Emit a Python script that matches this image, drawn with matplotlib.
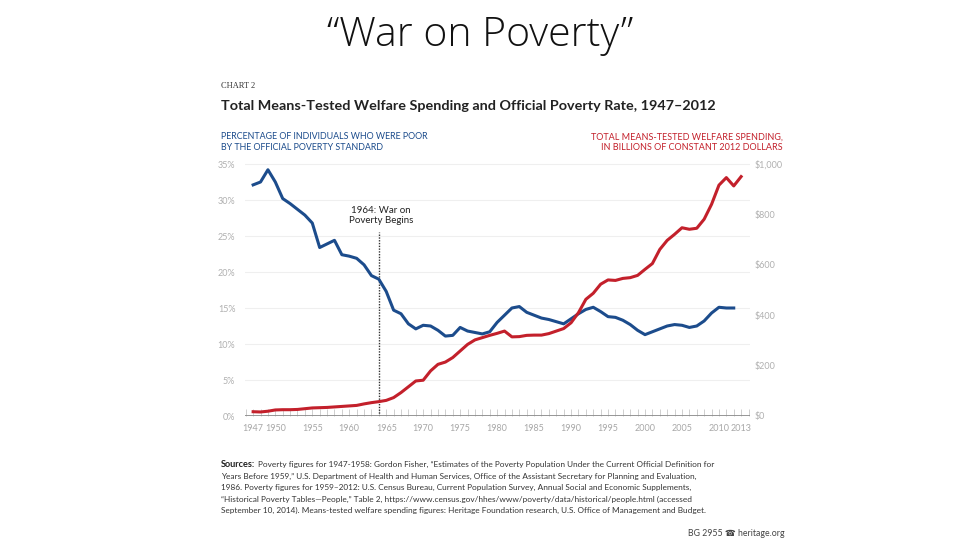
import matplotlib
matplotlib.use("Agg")
import matplotlib.pyplot as plt
from matplotlib.ticker import FixedLocator, MultipleLocator

# poverty rate (%), 1947-2012
pov_years = list(range(1947, 2013))
poverty = [32.1, 32.5, 34.2, 32.5, 30.2, 29.5, 28.7, 27.9, 26.8, 23.4,
           23.9, 24.4, 22.4, 22.2, 21.9, 21.0, 19.5, 19.0, 17.3, 14.7,
           14.2, 12.8, 12.1, 12.6, 12.5, 11.9, 11.1, 11.2, 12.3, 11.8,
           11.6, 11.4, 11.7, 13.0, 14.0, 15.0, 15.2, 14.4, 14.0, 13.6,
           13.4, 13.1, 12.8, 13.5, 14.2, 14.8, 15.1, 14.5, 13.8, 13.7,
           13.3, 12.7, 11.9, 11.3, 11.7, 12.1, 12.5, 12.7, 12.6, 12.3,
           12.5, 13.2, 14.3, 15.1, 15.0, 15.0]

# means-tested welfare spending, billions of 2012 dollars
spend_years = list(range(1947, 2014))
spending = [17, 16, 19, 24, 25, 25, 26, 29, 32, 33,
            34, 36, 38, 40, 42, 48, 53, 57, 62, 73,
            93, 116, 139, 142, 179, 205, 214, 232, 258, 284,
            302, 311, 320, 328, 337, 314, 315, 320, 321, 321,
            327, 337, 347, 370, 410, 463, 487, 523, 540, 538,
            546, 549, 558, 582, 605, 661, 697, 721, 747, 741,
            745, 781, 840, 916, 946, 913, 950]

x_labels = [1947, 1950, 1955, 1960, 1965, 1970, 1975, 1980, 1985, 1990,
            1995, 2000, 2005, 2010, 2013]
pct_ticks = [0, 5, 10, 15, 20, 25, 30, 35]
usd_ticks = [0, 200, 400, 600, 800, 1000]
usd_labels = ["$0", "$200", "$400", "$600", "$800", "$1,000"]

source_lines = [
    "Poverty figures for 1947-1958: Gordon Fisher, \u201cEstimates of the Poverty Population Under the Current Official Definition for",
    "Years Before 1959,\u201d U.S. Department of Health and Human Services, Office of the Assistant Secretary for Planning and Evaluation,",
    "1986. Poverty figures for 1959\u20132012: U.S. Census Bureau, Current Population Survey, Annual Social and Economic Supplements,",
    "\u201cHistorical Poverty Tables\u2014People,\u201d Table 2, https://www.census.gov/hhes/www/poverty/data/historical/people.html (accessed",
    "September 10, 2014). Means-tested welfare spending figures: Heritage Foundation research, U.S. Office of Management and Budget.",
]

blue = "#1c4c8c"
red = "#c3202b"

plt.rcParams["font.family"] = ["Lato", "DejaVu Sans"]

fig = plt.figure(figsize=(9.6, 5.4), dpi=100)

# slide title
fig.text(0.5, 0.935, "\u201cWar on Poverty\u201d", ha="center", va="center",
         fontsize=29.5, color="#111111", family=["Open Sans", "DejaVu Sans"],
         fontweight="light")

# chart header
fig.text(221 / 960, 1 - 86 / 540, "CHART 2", fontsize=6, color="#333333",
         family=["Liberation Serif"], va="center")
fig.text(221 / 960, 1 - 106 / 540,
         "Total Means-Tested Welfare Spending and Official Poverty Rate, 1947\u20132012",
         fontsize=10.4, fontweight="bold", color="#222222", va="center")
fig.text(221 / 960, 1 - 142 / 540,
         "PERCENTAGE OF INDIVIDUALS WHO WERE POOR\nBY THE OFFICIAL POVERTY STANDARD",
         fontsize=6.4, color=blue, va="center", linespacing=1.15)
fig.text(783 / 960, 1 - 142 / 540,
         "TOTAL MEANS-TESTED WELFARE SPENDING,\nIN BILLIONS OF CONSTANT 2012 DOLLARS",
         fontsize=6.5, color=red, va="center", ha="right", linespacing=1.15,
         multialignment="right")

ax = fig.add_axes([245 / 960, (540 - 416) / 540, 505 / 960, (416 - 156.8) / 540])
ax.set_xlim(1945.9, 2014.2)
ax.set_ylim(0, 36)
for s in ax.spines.values():
    s.set_visible(False)

# faint grid
for v in pct_ticks[1:]:
    ax.axhline(v, color="#efefef", lw=0.8, zorder=0)

ax.axhline(0, color="#8c8c8c", lw=2, zorder=3)

ax.plot(pov_years, poverty, color=blue, lw=2.2, zorder=4)

ax.yaxis.set_major_locator(FixedLocator(pct_ticks))
ax.set_yticklabels([f"{v}%" for v in pct_ticks])
ax.tick_params(axis="y", length=0, pad=7, labelsize=6.5, labelcolor="#b0b0b0")

ax.xaxis.set_major_locator(FixedLocator(x_labels))
ax.xaxis.set_minor_locator(MultipleLocator(1))
ax.tick_params(axis="x", which="both", direction="in", length=5, width=0.6,
               color="#c8c8c8", labelsize=6.5, labelcolor="#a8a8a8", pad=6)

# 1964 marker
ax.axvline(1964, ymin=0, ymax=25.6 / 36, color="#333333", lw=1, ls=(0, (1, 1)), zorder=2)
ax.text(1964.3, 27.8, "1964: War on\nPoverty Begins", ha="center", va="center",
        fontsize=7.0, color="#222222", linespacing=1.1)

ax2 = ax.twinx()
ax2.set_ylim(0, 36 / 35 * 1000)
for s in ax2.spines.values():
    s.set_visible(False)
ax2.plot(spend_years, spending, color=red, lw=2.2, zorder=4)
ax2.yaxis.set_major_locator(FixedLocator(usd_ticks))
ax2.set_yticklabels(usd_labels)
ax2.tick_params(axis="y", length=0, pad=3, labelsize=6.5, labelcolor="#b0b0b0")

# sources, one line at a time
src_size = 5.95
lab = fig.text(221 / 960, 1 - 467 / 540, "Sources:", fontsize=6.6,
               fontweight="bold", color="#222222", va="baseline")
fig.canvas.draw()
bb = lab.get_window_extent()
for i, line in enumerate(source_lines):
    x0 = (bb.x1 + 3) / 960 if i == 0 else 221 / 960
    fig.text(x0, 1 - (467 + 11.5 * i) / 540, line, fontsize=src_size,
             color="#333333", va="baseline")

fig.text(785 / 960, 1 - 533 / 540, "BG 2955 \u260e heritage.org", ha="right",
         va="center", fontsize=6.3, color="#444444", family=["Lato", "DejaVu Sans"])

fig.savefig("out.png", dpi=100)
